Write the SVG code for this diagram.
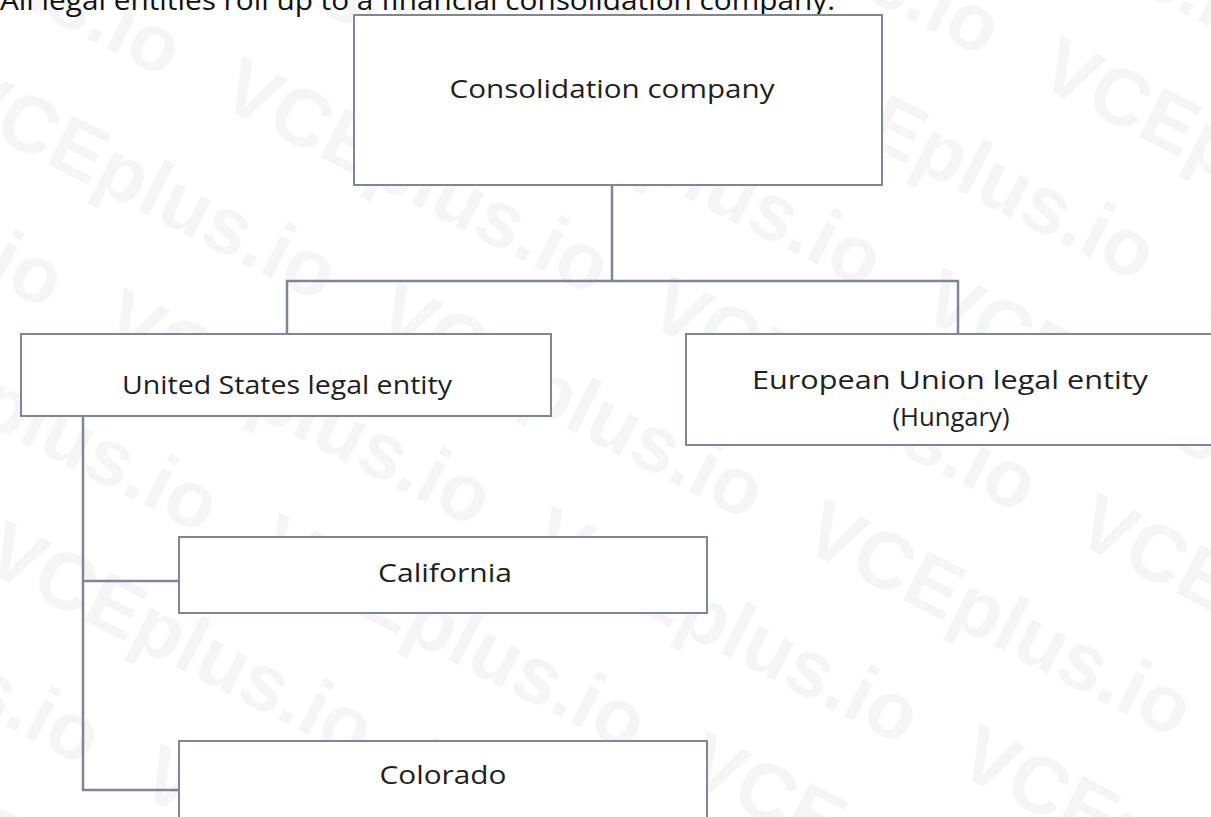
<svg xmlns="http://www.w3.org/2000/svg" width="1211" height="817" viewBox="0 0 1211 817">
  <defs>
    <style>
      .box { fill: #ffffff; stroke: #7d8797; stroke-width: 2; }
      .conn { fill: none; stroke: #7d8797; stroke-width: 2.5; }
      .lbl { font-family: "Open Sans", "Noto Sans", "DejaVu Sans", sans-serif; font-size: 26px; fill: #1f1f1f; text-anchor: middle; }
      .title { font-family: "Open Sans", "Noto Sans", sans-serif; font-size: 28px; fill: #111111; }
      .wm { font-family: "Liberation Sans", Arial, sans-serif; font-weight: bold; font-size: 80px; fill: #000000; fill-opacity: 0.04; }
    </style>
    <pattern id="wmPat" patternUnits="userSpaceOnUse" width="480" height="260" patternTransform="translate(-20,40) rotate(27)">
      <text class="wm" x="0" y="80">VCEplus.io</text>
      <text class="wm" x="240" y="210">VCEplus.io</text>
      <text class="wm" x="-240" y="210">VCEplus.io</text>
    </pattern>
  </defs>

  <rect x="0" y="0" width="1211" height="817" fill="#ffffff"/>
  <rect id="watermark" x="0" y="0" width="1211" height="817" fill="url(#wmPat)"/>

  <text id="title" class="title" x="0" y="10" textLength="835" lengthAdjust="spacingAndGlyphs">All legal entities roll up to a financial consolidation company.</text>

  <g id="connectors">
    <polyline class="conn" points="612,185 612,281"/>
    <polyline class="conn" points="287,334 287,281 958,281 958,334"/>
    <polyline class="conn" points="83,416 83,790 179,790"/>
    <polyline class="conn" points="83,581 179,581"/>
  </g>

  <g id="consolidation">
    <rect class="box" x="354" y="15" width="528" height="170"/>
    <text class="lbl" x="612" y="98" textLength="325" lengthAdjust="spacingAndGlyphs">Consolidation company</text>
  </g>

  <g id="us-entity">
    <rect class="box" x="21" y="334" width="530" height="82"/>
    <text class="lbl" x="287" y="394" textLength="330" lengthAdjust="spacingAndGlyphs">United States legal entity</text>
  </g>

  <g id="eu-entity">
    <rect class="box" x="686" y="334" width="535" height="111"/>
    <text class="lbl" x="950" y="389" textLength="396" lengthAdjust="spacingAndGlyphs">European Union legal entity</text>
    <text class="lbl" x="951" y="426" textLength="117" lengthAdjust="spacingAndGlyphs">(Hungary)</text>
  </g>

  <g id="california">
    <rect class="box" x="179" y="537" width="528" height="76"/>
    <text class="lbl" x="445" y="582" textLength="134" lengthAdjust="spacingAndGlyphs">California</text>
  </g>

  <g id="colorado">
    <rect class="box" x="179" y="741" width="528" height="90"/>
    <text class="lbl" x="443" y="784" textLength="127" lengthAdjust="spacingAndGlyphs">Colorado</text>
  </g>
</svg>
